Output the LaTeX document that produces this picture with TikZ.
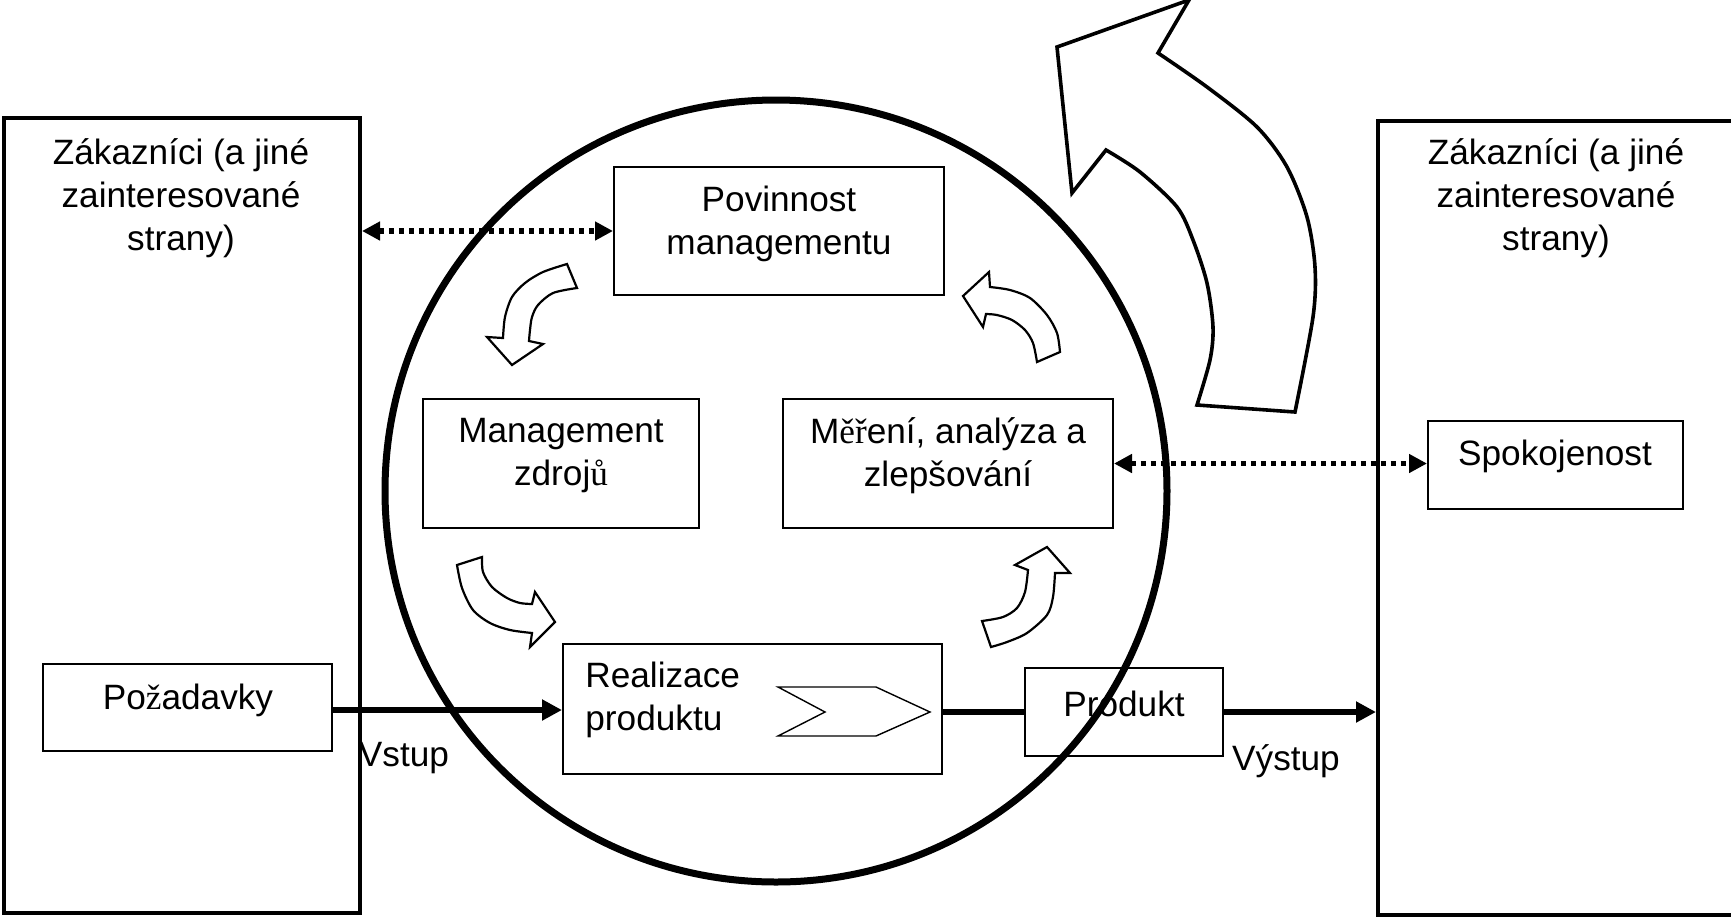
\documentclass[tikz,border=0pt]{standalone}
\usepackage{fontspec}
\setmainfont{Liberation Sans}
\newfontfamily\serifch{Liberation Serif}
\usetikzlibrary{arrows.meta}
\newcommand{\sch}[1]{{\serifch #1}}
\begin{document}
\begin{tikzpicture}[x=0.5pt,y=-0.5pt,
  every node/.style={font=\fontsize{17.6}{21.5}\selectfont},
  bigbox/.style={draw, line width=2pt, inner sep=0pt},
  box/.style={draw, line width=1pt, inner sep=0pt},
  txt/.style={align=center, inner sep=0pt},
  ring/.style={draw, circle, line width=3.5pt, inner sep=0pt},
  dotarrow/.style={line width=2.6pt, dash pattern=on 2.6pt off 2.4pt,
    {Triangle[length=9pt,width=9pt]}-{Triangle[length=9pt,width=9pt]}},
  flow/.style={line width=3pt, -{Triangle[length=10pt,width=10pt]}},
  plain/.style={line width=3pt},
  curvearrow/.style={draw, fill=white, line width=1.1pt, line join=miter},
  bigarrow/.style={draw, fill=white, line width=1.8pt, line join=miter},
  chevron/.style={draw, line width=0.7pt}
]
\useasboundingbox (0,0) rectangle (1731,917);
\clip (0,0) rectangle (1731,917);

% big boxes
\node[bigbox, minimum width=178pt, minimum height=397.5pt] (lbox) at (182,515.5) {};
\node[bigbox, minimum width=191pt, minimum height=397pt] (rbox) at (1569,518) {};
\node[txt] (ltitle) at (181,198) {Zákazníci (a jiné\\zainteresované\\strany)};
\node[txt] (rtitle) at (1556,198) {Zákazníci (a jiné\\zainteresované\\strany)};

% circle
\node[ring, minimum size=391pt] (ring) at (776,491) {};

% inner boxes
\node[box, minimum width=165pt, minimum height=64pt] (pov) at (779,231) {};
\node[txt] (povt) at (779,224) {Povinnost\\managementu};
\node[box, minimum width=138pt, minimum height=64.5pt] (mz) at (561,463.5) {};
\node[txt] (mzt) at (561,456) {Management\\zdroj\sch{ů}};
\node[box, minimum width=165pt, minimum height=64.5pt] (mer) at (948,463.5) {};
\node[txt] (mert) at (948,456) {M\sch{ěř}ení, analýza a\\zlepšování};
\node[box, minimum width=189.5pt, minimum height=65pt] (real) at (752.5,709) {};
\node[txt, align=left, anchor=west] (realt) at (585,700) {Realizace\\produktu};
\node[box, minimum width=99pt, minimum height=44pt] (prod) at (1124,712) {};
\node[txt] (prodt) at (1124,704) {Produkt};
\node[box, minimum width=144.5pt, minimum height=43.5pt] (poz) at (187.5,707.5) {};
\node[txt] (pozt) at (188,700) {Po\sch{ž}adavky};
\node[box, minimum width=127.5pt, minimum height=44pt] (spok) at (1555.5,465) {};
\node[txt] (spokt) at (1555,456) {Spokojenost};

% labels
\node[txt] (vstup) at (404,758) {Vstup};
\node[txt] (vystup) at (1286,761) {Výstup};

% chevron inside Realizace
\draw[chevron] (778,687) -- (876,687) -- (930,712) -- (876,736) -- (778,736) -- (825,712) -- cycle;

% connectors
\draw[dotarrow] (pov.west -| lbox.east) -- (pov.west);
\draw[dotarrow] (mer.east) -- (mer.east -| spok.west);
\draw[flow] (poz.east |- 0,710) -- (real.west |- 0,710);
\draw[plain] (real.east |- prod.west) -- (prod.west);
\draw[flow] (prod.east) -- (prod.east -| rbox.west);

% small curved arrows
\draw[curvearrow] (567,264) -- (577,288)
  -- plot[smooth] coordinates {(577,288) (553,293) (538,305) (532,317) (530,330) (529,341)}
  -- (543,344) -- (512,365) -- (487,337) -- (503,338)
  -- plot[smooth] coordinates {(503,338) (505,317) (512,297) (525,283) (543,272) (567,264)} -- cycle;
\draw[curvearrow] (1060,352) -- (1037,362)
  -- plot[smooth] coordinates {(1037,362) (1033,343) (1025,330) (1012,320) (997,315) (986,314)}
  -- (983,327) -- (963,296) -- (989,272) -- (990,287)
  -- plot[smooth] coordinates {(990,287) (1010,290) (1030,298) (1047,315) (1057,333) (1060,352)} -- cycle;
\draw[curvearrow] (457,565) -- (482,557)
  -- plot[smooth] coordinates {(482,557) (483,572) (492,587) (507,598) (520,603) (532,604)}
  -- (535,592) -- (555,622) -- (530,647) -- (532,633)
  -- plot[smooth] coordinates {(532,633) (510,630) (490,623) (473,610) (462,588) (457,565)} -- cycle;
\draw[curvearrow] (991,647) -- (982,621)
  -- plot[smooth] coordinates {(982,621) (1003,617) (1017,608) (1025,592) (1028,570)}
  -- (1015,565) -- (1047,547) -- (1070,573) -- (1055,573)
  -- plot[smooth] coordinates {(1055,573) (1053,597) (1047,615) (1027,633) (1007,642) (991,647)} -- cycle;

% big arrow
\draw[bigarrow] (1197,405)
  -- plot[smooth] coordinates {(1197,405) (1210,360) (1213,327) (1207,283) (1193,240) (1177,207) (1140,172) (1106,150)}
  -- (1072,193) -- (1057,47) -- (1189,0) -- (1158,53)
  -- plot[smooth] coordinates {(1158,53) (1207,87) (1257,127) (1287,167) (1307,217) (1315,267) (1313,317) (1295,412)}
  -- cycle;
\end{tikzpicture}
\end{document}
